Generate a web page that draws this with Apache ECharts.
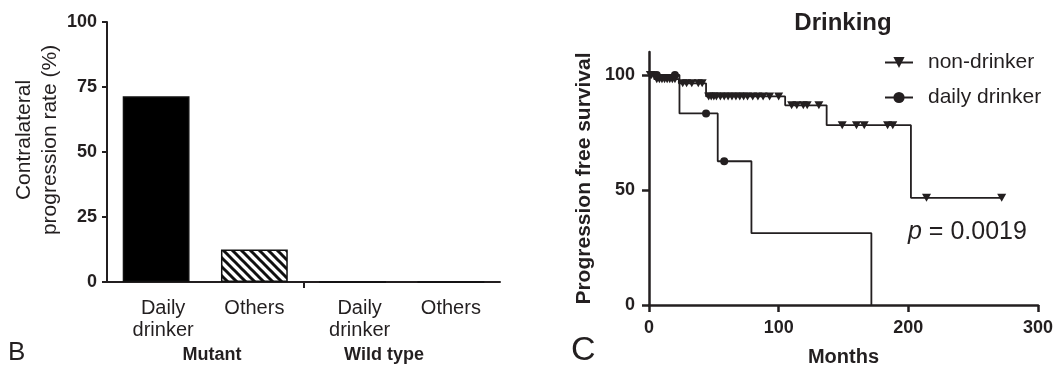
<!DOCTYPE html>
<html>
<head>
<meta charset="utf-8">
<script src="https://cdn.jsdelivr.net/npm/echarts@6/dist/echarts.min.js"></script>
<style>
html,body{margin:0;padding:0;background:#fff;}
#chart{width:1057px;height:372px;}
</style>
</head>
<body>
<div id="chart"></div>
<script>
// ---------- Data (panel B) ----------
const barCategories = ['Daily\ndrinker', 'Others', 'Daily\ndrinker', 'Others'];
const barValues = [71.4, 12.5, 0, 0];
const groupLabels = ['Mutant', 'Wild type'];
const barYTicks = [0, 25, 50, 75, 100];
const groupSeparatorTick = [2]; // boundary between the two groups (category units)

// ---------- Data (panel C) ----------
const seriesNames = ['non-drinker', 'daily drinker'];
// non-drinker: event times (months) and survival after event (%)
const ndEventTimes = [4, 23, 44, 105, 137, 202];
const ndEventSurv = [98.2, 96.4, 90.7, 86.8, 78.2, 46.6];
const ndCensorTimes = [1, 2, 6, 8, 10, 12, 14, 16, 18, 20, 26, 29, 33, 38, 41,
  46, 48, 50, 52, 55, 58, 61, 64, 67, 70, 73, 76, 80, 84, 88, 93, 100,
  110, 114, 119, 122, 131, 149, 160, 166, 184, 188, 214, 272];
// daily drinker
const ddEventTimes = [23.5, 53, 79, 171.5];
const ddEventSurv = [83.3, 62.5, 31.25, 0];
const ddCensorTimes = [6, 20, 44, 58];
const kmXTicks = [0, 100, 200, 300];
const kmYTicks = [0, 50, 100];
const pText = '0.0019';

const INK = '#231f20';
const FONT = '"Liberation Sans", Arial, Helvetica, sans-serif';

function survAt(t, evT, evS) {
  let s = 100;
  for (let i = 0; i < evT.length; i++) { if (evT[i] <= t) s = evS[i]; }
  return s;
}
function buildKM(evT, evS, cT) {
  const pts = [{ value: [0, 100], symbolSize: 0 }];
  const all = [];
  evT.forEach((t, i) => all.push({ t: t, ev: true, s: evS[i] }));
  cT.forEach(t => all.push({ t: t, ev: false }));
  all.sort((a, b) => a.t - b.t || (a.ev ? -1 : 1));
  all.forEach(p => {
    if (p.ev) pts.push({ value: [p.t, p.s], symbolSize: 0 });
    else pts.push({ value: [p.t, survAt(p.t, evT, evS)] });
  });
  return pts;
}

// hatch pattern for "Others"
const hatch = document.createElement('canvas');
hatch.width = 9; hatch.height = 9;
(function () {
  const c = hatch.getContext('2d');
  c.fillStyle = '#fff'; c.fillRect(0, 0, 9, 9);
  c.strokeStyle = '#111'; c.lineWidth = 3;
  for (let k = -9; k <= 9; k += 9) {
    c.beginPath(); c.moveTo(k - 2, -2); c.lineTo(k + 11, 11); c.stroke();
  }
})();

const chart = echarts.init(document.getElementById('chart'), null, { renderer: 'canvas' });

const option = {
  animation: false,
  backgroundColor: '#fff',
  textStyle: { fontFamily: FONT, color: INK },
  grid: [
    { left: 107, top: 22, width: 393, height: 260 },
    { left: 649, top: 52, width: 389, height: 257 }
  ],
  legend: {
    data: seriesNames,
    orient: 'vertical',
    left: 884,
    top: 52,
    padding: 0,
    itemWidth: 28,
    itemHeight: 14,
    itemGap: 14,
    textStyle: { fontSize: 21, fontFamily: FONT, color: INK, lineHeight: 20, padding: [0, 0, 0, 10] }
  },
  xAxis: [
    {
      gridIndex: 0, type: 'category', position: 'bottom',
      data: barCategories.map(c => c.indexOf('\n') >= 0
        ? { value: c, textStyle: { padding: [0, 0, 0, 14] } }
        : { value: c }),
      axisLine: { lineStyle: { color: INK, width: 2 } },
      axisTick: { show: false },
      axisLabel: { fontSize: 20, lineHeight: 22, color: INK, margin: 15, interval: 0, fontFamily: FONT }
    },
    {
      gridIndex: 1, type: 'value', min: 0, max: 300, interval: 100,
      name: 'Months', nameLocation: 'middle', nameGap: 42,
      nameTextStyle: { fontSize: 20, fontWeight: 'bold', color: INK, fontFamily: FONT },
      splitLine: { show: false },
      axisLine: { onZero: false, lineStyle: { color: INK, width: 2.5 } },
      axisTick: { length: 7, lineStyle: { color: INK, width: 2.5 }, customValues: kmXTicks },
      axisLabel: { fontSize: 18, fontWeight: 'bold', color: INK, margin: 14, fontFamily: FONT, customValues: kmXTicks }
    },
    {
      gridIndex: 0, type: 'value', min: 0, max: barCategories.length, position: 'bottom',
      splitLine: { show: false },
      axisLine: { show: false },
      axisLabel: { show: false },
      axisTick: { show: true, length: 6, lineStyle: { color: INK, width: 2 }, customValues: groupSeparatorTick }
    }
  ],
  yAxis: [
    {
      gridIndex: 0, type: 'value', min: 0, max: 100, interval: 25,
      name: 'Contralateral\nprogression rate (%)', nameLocation: 'middle', nameGap: 44,
      nameTextStyle: { fontSize: 21, lineHeight: 26, color: INK, fontFamily: FONT, padding: [0, 0, 0, 24] },
      splitLine: { show: false },
      axisLine: { show: true, lineStyle: { color: INK, width: 2 } },
      axisTick: { show: true, length: 5, lineStyle: { color: INK, width: 2 } },
      axisLabel: { fontSize: 18, fontWeight: 'bold', color: INK, margin: 10, fontFamily: FONT, customValues: barYTicks }
    },
    {
      gridIndex: 1, type: 'value', min: 0, max: 110,
      name: 'Progression free survival', nameLocation: 'middle', nameGap: 54,
      nameTextStyle: { fontSize: 21, fontWeight: 'bold', color: INK, fontFamily: FONT },
      splitLine: { show: false },
      axisLine: { show: true, onZero: false, lineStyle: { color: INK, width: 2.5 } },
      axisTick: { show: true, length: 7, lineStyle: { color: INK, width: 2.5 }, customValues: kmYTicks },
      axisLabel: { fontSize: 18, fontWeight: 'bold', color: INK, margin: 14, fontFamily: FONT, customValues: kmYTicks }
    }
  ],
  series: [
    {
      type: 'bar', xAxisIndex: 0, yAxisIndex: 0, barWidth: '68%',
      data: barValues.map((v, i) => ({
        value: v,
        itemStyle: i % 2 === 0
          ? { color: '#000', borderColor: '#111', borderWidth: 1.5 }
          : { color: { image: hatch, repeat: 'repeat' }, borderColor: '#111', borderWidth: 1.5 }
      }))
    },
    {
      name: seriesNames[0], type: 'line', xAxisIndex: 1, yAxisIndex: 1,
      step: 'end', symbol: 'triangle', symbolRotate: 180, symbolSize: [9, 8],
      showAllSymbol: true,
      lineStyle: { color: INK, width: 1.8 }, itemStyle: { color: INK },
      data: buildKM(ndEventTimes, ndEventSurv, ndCensorTimes)
    },
    {
      name: seriesNames[1], type: 'line', xAxisIndex: 1, yAxisIndex: 1,
      step: 'end', symbol: 'circle', symbolSize: 8,
      showAllSymbol: true,
      lineStyle: { color: INK, width: 1.8 }, itemStyle: { color: INK },
      data: buildKM(ddEventTimes, ddEventSurv, ddCensorTimes)
    }
  ],
  graphic: [
    { type: 'text', left: 8, top: 340, style: { text: 'B', font: '26px ' + FONT, fill: INK } },
    { type: 'text', left: 571, top: 334, style: { text: 'C', font: '34px ' + FONT, fill: INK } },
    { type: 'text', x: 212, y: 355, style: { text: groupLabels[0], font: 'bold 18px ' + FONT, fill: INK, textAlign: 'center', textVerticalAlign: 'middle' } },
    { type: 'text', x: 384, y: 355, style: { text: groupLabels[1], font: 'bold 18px ' + FONT, fill: INK, textAlign: 'center', textVerticalAlign: 'middle' } },
    { type: 'text', x: 843, y: 23, style: { text: 'Drinking', font: 'bold 24px ' + FONT, fill: INK, textAlign: 'center', textVerticalAlign: 'middle' } },
    { type: 'text', left: 908, top: 220, style: {
        text: '{i|p} = ' + pText,
        font: '25px ' + FONT, fill: INK,
        rich: { i: { fontStyle: 'italic', fontSize: 25, fontFamily: FONT, fill: INK } }
      } }
  ]
};
chart.setOption(option);
</script>
</body>
</html>
